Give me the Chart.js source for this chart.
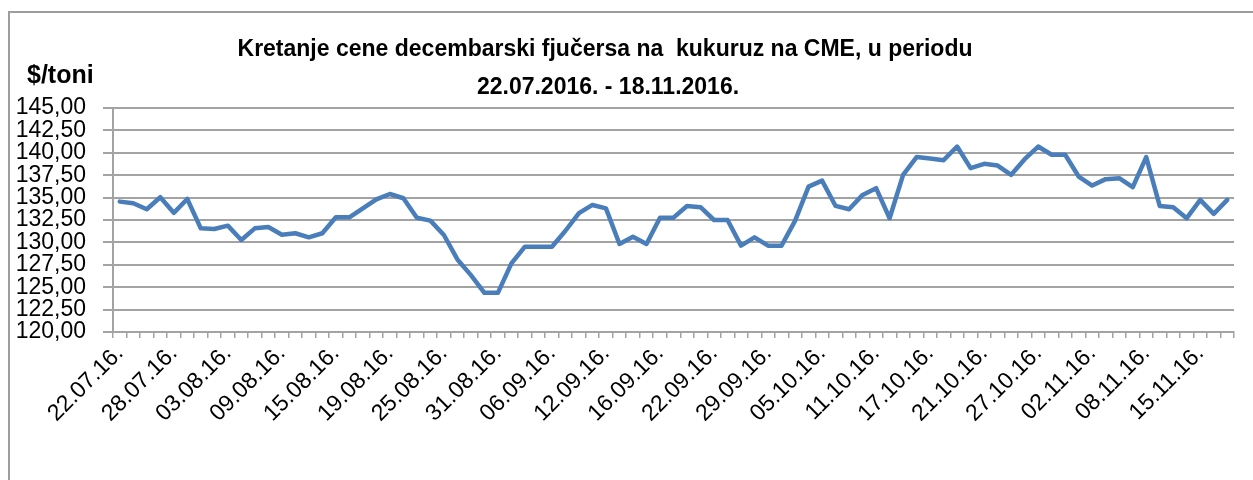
<!DOCTYPE html>
<html>
<head>
<meta charset="utf-8">
<script src="https://cdn.jsdelivr.net/npm/chart.js@4"></script>
<style>
  body { margin: 0; background: #fff; overflow: hidden; }
  #frame { position: absolute; left: 8px; top: 11px; width: 1300px; height: 520px; border: 2px solid #9d9d9d; }
  #cene { position: absolute; left: 0; top: 0; }
</style>
</head>
<body>
<div id="frame"></div>
<canvas id="cene" width="1253" height="480"></canvas>
<script>
// Datumi trgovanja (dd.mm.yy.)
const datumi = [
  '22.07.16.', '25.07.16.', '26.07.16.', '27.07.16.', '28.07.16.', '29.07.16.',
  '01.08.16.', '02.08.16.', '03.08.16.', '04.08.16.', '05.08.16.', '08.08.16.',
  '09.08.16.', '10.08.16.', '11.08.16.', '12.08.16.', '15.08.16.', '16.08.16.',
  '17.08.16.', '18.08.16.', '19.08.16.', '22.08.16.', '23.08.16.', '24.08.16.',
  '25.08.16.', '26.08.16.', '29.08.16.', '30.08.16.', '31.08.16.', '01.09.16.',
  '02.09.16.', '05.09.16.', '06.09.16.', '07.09.16.', '08.09.16.', '09.09.16.',
  '12.09.16.', '13.09.16.', '14.09.16.', '15.09.16.', '16.09.16.', '19.09.16.',
  '20.09.16.', '21.09.16.', '22.09.16.', '23.09.16.', '26.09.16.', '27.09.16.',
  '29.09.16.', '30.09.16.', '03.10.16.', '04.10.16.', '05.10.16.', '06.10.16.',
  '07.10.16.', '10.10.16.', '11.10.16.', '12.10.16.', '13.10.16.', '14.10.16.',
  '17.10.16.', '18.10.16.', '19.10.16.', '20.10.16.', '21.10.16.', '24.10.16.',
  '25.10.16.', '26.10.16.', '27.10.16.', '28.10.16.', '31.10.16.', '01.11.16.',
  '02.11.16.', '03.11.16.', '04.11.16.', '07.11.16.', '08.11.16.', '09.11.16.',
  '10.11.16.', '14.11.16.', '15.11.16.', '16.11.16.', '18.11.16.'
];

// Cena decembarskog fjučersa ($/toni)
const cene = [
  134.55, 134.37, 133.70, 135.04, 133.30, 134.85,
  131.57, 131.50, 131.87, 130.27, 131.57, 131.72,
  130.86, 131.02, 130.57, 131.02, 132.80, 132.80,
  133.80, 134.80, 135.40, 134.93, 132.75, 132.43,
  130.83, 128.10, 126.35, 124.37, 124.37, 127.66,
  129.52, 129.52, 129.52, 131.30, 133.26, 134.18,
  133.80, 129.82, 130.64, 129.82, 132.76, 132.76,
  134.07, 133.93, 132.50, 132.50, 129.64, 130.57,
  129.64, 129.64, 132.40, 136.23, 136.90, 134.07,
  133.70, 135.30, 136.05, 132.70, 137.54, 139.52,
  139.36, 139.18, 140.70, 138.29, 138.77, 138.58,
  137.54, 139.29, 140.70, 139.78, 139.78, 137.35,
  136.34, 137.06, 137.17, 136.16, 139.52, 134.07,
  133.93, 132.70, 134.74, 133.18, 134.74
];

// Y osa
const yMin = 120;
const yMax = 145;
const yKorak = 2.5;
const korakOznaka = 4; // prikazuje se svaki 4. datum

const naslov = ['Kretanje cene decembarski fjučersa na  kukuruz na CME, u periodu', '22.07.2016. - 18.11.2016.'];
const jedinica = '$/toni';

const sivo = '#a3a3a3';
const font = "'Liberation Sans', Arial, sans-serif";

// Naslov i jedinica crtaju se preko canvas-a
const tekstPlugin = {
  id: 'tekst',
  afterDraw(chart) {
    const ctx = chart.ctx;
    ctx.save();
    ctx.fillStyle = '#000';
    ctx.textBaseline = 'middle';
    ctx.textAlign = 'center';
    ctx.font = 'bold 23px ' + font;
    ctx.fillText(naslov[0], 605, 50);
    ctx.fillText(naslov[1], 608, 88);
    ctx.textAlign = 'left';
    ctx.font = 'bold 25px ' + font;
    ctx.fillText(jedinica, 27, 76);
    ctx.restore();
  }
};

const ctx = document.getElementById('cene').getContext('2d');
const chart = new Chart(ctx, {
  type: 'line',
  data: {
    labels: datumi,
    datasets: [{
      data: cene,
      borderColor: '#4a7ebb',
      borderWidth: 4.5,
      borderJoinStyle: 'round',
      borderCapStyle: 'round',
      pointRadius: 0,
      tension: 0,
      fill: false
    }]
  },
  options: {
    responsive: false,
    animation: false,
    devicePixelRatio: 1,
    layout: { padding: { left: 0, top: 108, right: 19, bottom: 0 } },
    plugins: {
      legend: { display: false },
      tooltip: { enabled: false },
      title: { display: false }
    },
    scales: {
      x: {
        type: 'category',
        offset: true,
        afterFit(scale) { scale.height = 148; },
        grid: {
          offset: true,
          drawOnChartArea: false,
          drawTicks: true,
          tickLength: 6,
          color: sivo,
          lineWidth: 1.5
        },
        border: { display: true, color: sivo, width: 2 },
        ticks: {
          autoSkip: false,
          minRotation: 45,
          maxRotation: 45,
          padding: 2,
          color: '#000',
          font: { family: font, size: 23 },
          callback(value, index) {
            return index % korakOznaka === 0 ? datumi[index] : '';
          }
        }
      },
      y: {
        min: yMin,
        max: yMax,
        afterFit(scale) { scale.width = 113; },
        grid: {
          color: sivo,
          lineWidth: 2,
          drawTicks: true,
          tickLength: 10
        },
        border: { display: true, color: sivo, width: 2 },
        ticks: {
          stepSize: yKorak,
          autoSkip: false,
          padding: 17,
          color: '#000',
          font: { family: font, size: 23, lineHeight: 1 },
          callback(value) {
            return value.toFixed(2).replace('.', ',');
          }
        }
      }
    }
  },
  plugins: [tekstPlugin]
});
</script>
</body>
</html>
